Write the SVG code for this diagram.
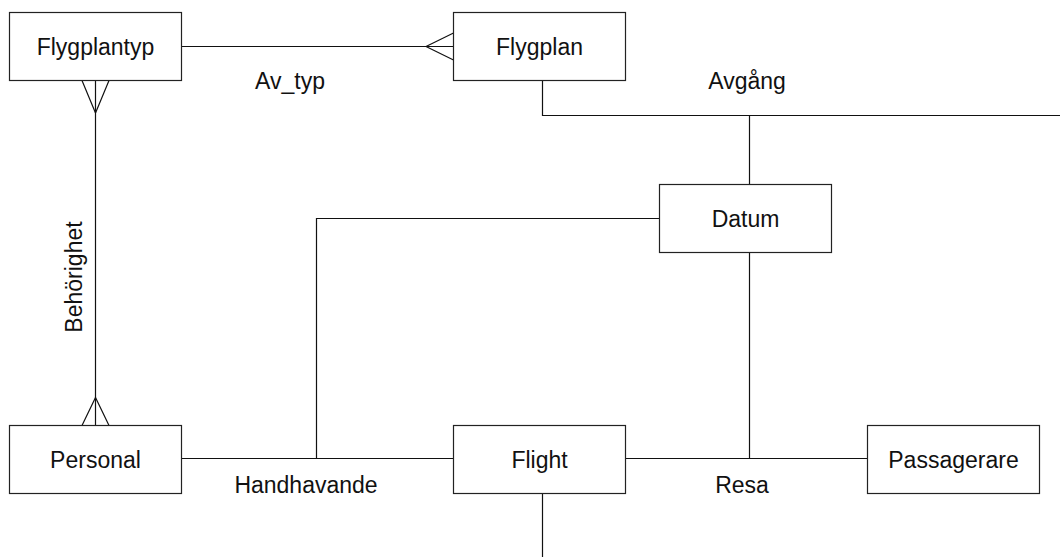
<svg xmlns="http://www.w3.org/2000/svg" width="1060" height="557" viewBox="0 0 1060 557">
<style>
.box{fill:#fff;stroke:#222;stroke-width:1.2}
.t{font-family:"Liberation Sans",Arial,sans-serif;font-size:23px;fill:#111;text-anchor:middle}
.c{fill:none;stroke:#111;stroke-width:1.2}
</style>
<rect width="1060" height="557" fill="#fff"/>
<g id="connectors">
<path class="c" d="M181.5 46.5H453.5"/>
<path class="c" d="M426 46.5L453.5 33M426 46.5L453.5 60"/>
<path class="c" d="M95.5 80.5V425.5"/>
<path class="c" d="M82 80.5L95.5 113M109 80.5L95.5 113"/>
<path class="c" d="M82 425.5L95.5 397.5M109 425.5L95.5 397.5"/>
<path class="c" d="M542.5 80.5V115.5H1060"/>
<path class="c" d="M749.5 115.5V184.5"/>
<path class="c" d="M749.5 252.5V458.5"/>
<path class="c" d="M659.5 218.5H316.5V458.5"/>
<path class="c" d="M181.5 458.5H453.5"/>
<path class="c" d="M625.5 458.5H867.5"/>
<path class="c" d="M542.5 493.5V557"/>
<text class="t" x="290" y="89">Av_typ</text>
<text class="t" x="747" y="89">Avgång</text>
<text class="t" transform="translate(82 277) rotate(-90)">Behörighet</text>
<text class="t" x="306" y="493">Handhavande</text>
<text class="t" x="742" y="493">Resa</text>
</g>
<g id="flygplantyp"><rect class="box" x="9.5" y="12.5" width="172" height="68"/><text class="t" x="95.5" y="55">Flygplantyp</text></g>
<g id="flygplan"><rect class="box" x="453.5" y="12.5" width="172" height="68"/><text class="t" x="539.5" y="55">Flygplan</text></g>
<g id="datum"><rect class="box" x="659.5" y="184.5" width="172" height="68"/><text class="t" x="745.5" y="227">Datum</text></g>
<g id="personal"><rect class="box" x="9.5" y="425.5" width="172" height="68"/><text class="t" x="95.5" y="468">Personal</text></g>
<g id="flight"><rect class="box" x="453.5" y="425.5" width="172" height="68"/><text class="t" x="539.5" y="468">Flight</text></g>
<g id="passagerare"><rect class="box" x="867.5" y="425.5" width="172" height="68"/><text class="t" x="953.5" y="468">Passagerare</text></g>
</svg>
